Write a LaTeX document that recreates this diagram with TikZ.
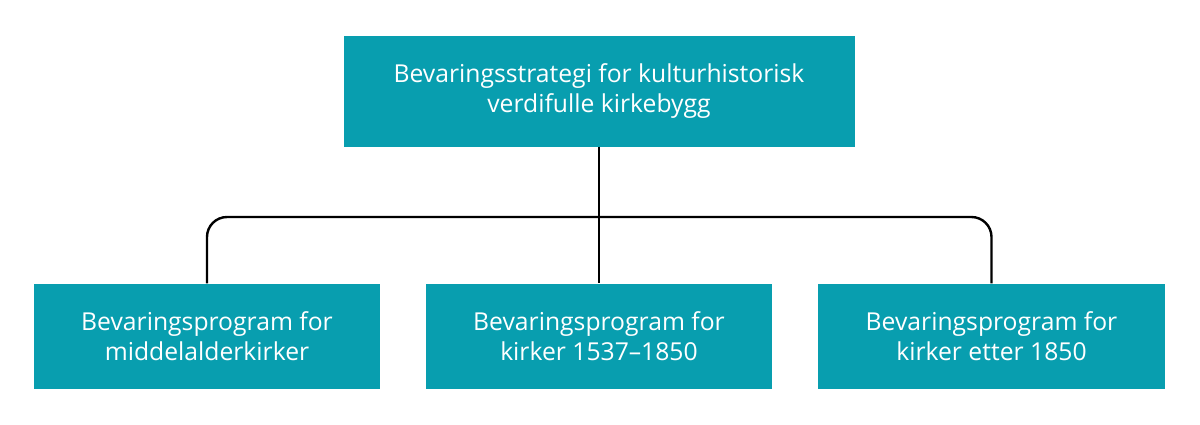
\documentclass[tikz,border=0pt]{standalone}
\usepackage{fontspec}
\setmainfont{Open Sans}
\definecolor{teal1}{RGB}{8,158,175}
\begin{document}
\begin{tikzpicture}[x=1pt,y=-1pt,
  box/.style={fill=teal1, draw=none, text=white, align=center, font=\fontsize{24.7}{30}\selectfont, inner sep=0pt},
  conn/.style={draw=black, line width=2.4pt, rounded corners=20pt}]
\useasboundingbox (0,0) rectangle (1200,424);
\node[box, minimum width=511pt, minimum height=111pt] (top) at (599,91) {Bevaringsstrategi for kulturhistorisk\\verdifulle kirkebygg};
\node[box, minimum width=346pt, minimum height=105pt] (l) at (207,336) {Bevaringsprogram for\\middelalderkirker};
\node[box, minimum width=346pt, minimum height=105pt] (m) at (599,336) {Bevaringsprogram for\\kirker 1537–1850};
\node[box, minimum width=347pt, minimum height=105pt] (r) at (991.5,336) {Bevaringsprogram for\\kirker etter 1850};
\coordinate (j) at (599,217);
\draw[conn] (top.south) -- (m.north);
\draw[conn] (l.north) |- (j) -| (r.north);
\end{tikzpicture}
\end{document}
